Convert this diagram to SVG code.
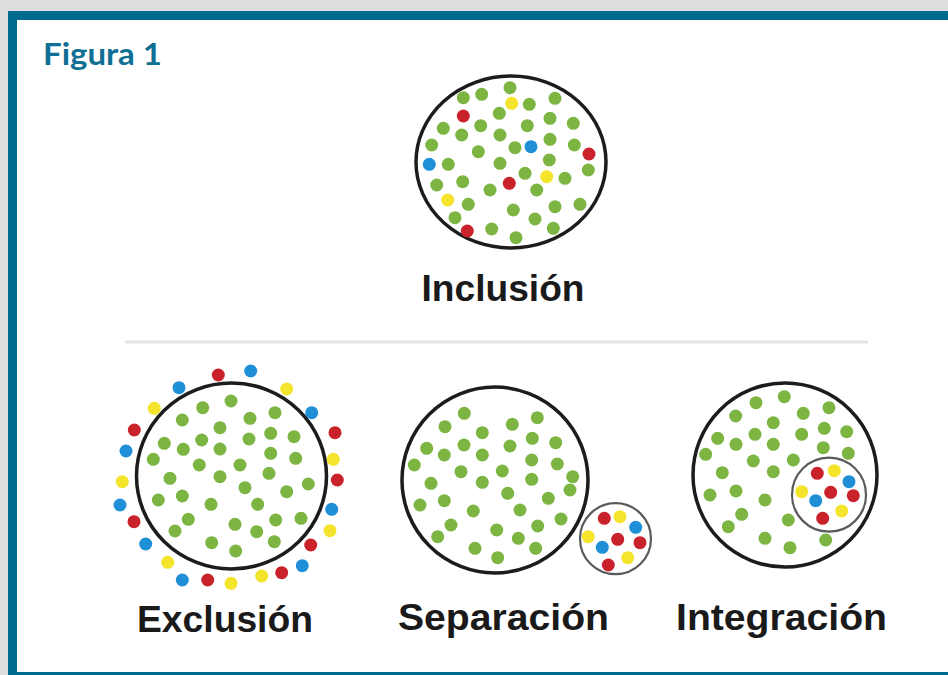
<svg xmlns="http://www.w3.org/2000/svg" width="948" height="675" viewBox="0 0 948 675">
<style>
.g{fill:#7db543}
.r{fill:#c9222b}
.y{fill:#f4e42c}
.b{fill:#1f8fd7}
.ring{fill:none;stroke:#1c1c1c;stroke-width:3.5}
.sub{fill:none;stroke:#5a5a5a;stroke-width:2.2}
.lbl{font-family:"Liberation Sans",Arial,sans-serif;font-weight:bold;fill:#1a1a1a;text-anchor:middle}
</style>
<rect x="0" y="0" width="948" height="675" fill="#dedede"/>
<rect x="8" y="11" width="950" height="680" fill="#006b8f"/>
<rect x="17" y="20" width="940" height="652" fill="#ffffff"/>
<text x="43" y="65" font-family="Lato,'Open Sans',sans-serif" font-weight="bold" font-size="30" fill="#0f6f94" textLength="119" lengthAdjust="spacingAndGlyphs">Figura 1</text>
<line x1="125" y1="342" x2="868" y2="342" stroke="#e4e4e4" stroke-width="3"/>

<g id="inclusion">
<ellipse class="ring" cx="511" cy="162" rx="95" ry="86"/>
<g>
<circle class="g" cx="510" cy="87.7" r="6.5"/><circle class="g" cx="463.3" cy="97.7" r="6.5"/><circle class="g" cx="481.7" cy="94.3" r="6.5"/><circle class="g" cx="555" cy="98.3" r="6.5"/><circle class="g" cx="529.3" cy="104.3" r="6.5"/><circle class="g" cx="499.3" cy="113.3" r="6.5"/><circle class="g" cx="550" cy="118.3" r="6.5"/><circle class="g" cx="573.3" cy="123.3" r="6.5"/><circle class="g" cx="443.3" cy="128.3" r="6.5"/><circle class="g" cx="461.7" cy="135" r="6.5"/><circle class="g" cx="480.7" cy="125.7" r="6.5"/><circle class="g" cx="500" cy="135" r="6.5"/><circle class="g" cx="527.3" cy="125.7" r="6.5"/><circle class="g" cx="550" cy="139.3" r="6.5"/><circle class="g" cx="574.3" cy="145" r="6.5"/><circle class="g" cx="431.7" cy="145" r="6.5"/><circle class="g" cx="478.3" cy="151.7" r="6.5"/><circle class="g" cx="515" cy="147.7" r="6.5"/><circle class="g" cx="500" cy="163.3" r="6.5"/><circle class="g" cx="448.3" cy="164.3" r="6.5"/><circle class="g" cx="549.3" cy="160" r="6.5"/><circle class="g" cx="525" cy="173.3" r="6.5"/><circle class="g" cx="588.3" cy="170" r="6.5"/><circle class="g" cx="565" cy="178.3" r="6.5"/><circle class="g" cx="436.7" cy="185" r="6.5"/><circle class="g" cx="462.7" cy="181.7" r="6.5"/><circle class="g" cx="490" cy="190" r="6.5"/><circle class="g" cx="536.7" cy="190" r="6.5"/><circle class="g" cx="468.3" cy="204.3" r="6.5"/><circle class="g" cx="513.3" cy="210" r="6.5"/><circle class="g" cx="555" cy="206.7" r="6.5"/><circle class="g" cx="580" cy="204.3" r="6.5"/><circle class="g" cx="455" cy="217.7" r="6.5"/><circle class="g" cx="535" cy="219" r="6.5"/><circle class="g" cx="553.3" cy="228.3" r="6.5"/><circle class="g" cx="491.7" cy="229" r="6.5"/><circle class="g" cx="516" cy="237.7" r="6.5"/>
<circle class="y" cx="511.7" cy="103.3" r="6.5"/><circle class="y" cx="546.7" cy="176.7" r="6.5"/><circle class="y" cx="447.7" cy="200" r="6.5"/>
<circle class="r" cx="463.3" cy="116" r="6.5"/><circle class="r" cx="589" cy="154" r="6.5"/><circle class="r" cx="509.3" cy="183.3" r="6.5"/><circle class="r" cx="467.3" cy="231" r="6.5"/>
<circle class="b" cx="531" cy="146.7" r="6.5"/><circle class="b" cx="429.3" cy="164.3" r="6.5"/>
</g>
<text class="lbl" x="503" y="301" font-size="36" textLength="163" lengthAdjust="spacingAndGlyphs">Inclusión</text>
</g>

<g id="exclusion">
<ellipse class="ring" cx="231.5" cy="476" rx="95" ry="93"/>
<g>
<circle class="g" cx="231" cy="401" r="6.5"/><circle class="g" cx="202.7" cy="407.7" r="6.5"/><circle class="g" cx="182.3" cy="420" r="6.5"/><circle class="g" cx="220" cy="427.7" r="6.5"/><circle class="g" cx="250" cy="418.3" r="6.5"/><circle class="g" cx="275" cy="412.7" r="6.5"/><circle class="g" cx="164.3" cy="443.3" r="6.5"/><circle class="g" cx="183.3" cy="449.3" r="6.5"/><circle class="g" cx="201.7" cy="440" r="6.5"/><circle class="g" cx="220" cy="449" r="6.5"/><circle class="g" cx="249" cy="439" r="6.5"/><circle class="g" cx="270.7" cy="433.3" r="6.5"/><circle class="g" cx="294" cy="436.7" r="6.5"/><circle class="g" cx="153.3" cy="459.3" r="6.5"/><circle class="g" cx="199.3" cy="465" r="6.5"/><circle class="g" cx="240" cy="465" r="6.5"/><circle class="g" cx="270.7" cy="453.3" r="6.5"/><circle class="g" cx="295.7" cy="458.3" r="6.5"/><circle class="g" cx="170" cy="478.3" r="6.5"/><circle class="g" cx="220" cy="476.7" r="6.5"/><circle class="g" cx="269" cy="473.3" r="6.5"/><circle class="g" cx="245" cy="487.7" r="6.5"/><circle class="g" cx="308.3" cy="484" r="6.5"/><circle class="g" cx="286.7" cy="491.7" r="6.5"/><circle class="g" cx="158.3" cy="500" r="6.5"/><circle class="g" cx="182.3" cy="496" r="6.5"/><circle class="g" cx="211" cy="504.3" r="6.5"/><circle class="g" cx="257.7" cy="504.3" r="6.5"/><circle class="g" cx="188.3" cy="519.3" r="6.5"/><circle class="g" cx="235" cy="524.3" r="6.5"/><circle class="g" cx="275.7" cy="520" r="6.5"/><circle class="g" cx="301" cy="518.3" r="6.5"/><circle class="g" cx="175" cy="531" r="6.5"/><circle class="g" cx="256.7" cy="531.7" r="6.5"/><circle class="g" cx="211.7" cy="542.7" r="6.5"/><circle class="g" cx="235.7" cy="551" r="6.5"/><circle class="g" cx="274.3" cy="541.7" r="6.5"/>
<circle class="r" cx="218.3" cy="375" r="6.5"/><circle class="r" cx="134.3" cy="430" r="6.5"/><circle class="r" cx="335" cy="432.7" r="6.5"/><circle class="r" cx="337.3" cy="480" r="6.5"/><circle class="r" cx="134" cy="521.7" r="6.5"/><circle class="r" cx="310.7" cy="545" r="6.5"/><circle class="r" cx="281.7" cy="572.7" r="6.5"/><circle class="r" cx="207.7" cy="580" r="6.5"/>
<circle class="b" cx="250.7" cy="371" r="6.5"/><circle class="b" cx="179" cy="387.7" r="6.5"/><circle class="b" cx="311.7" cy="412.7" r="6.5"/><circle class="b" cx="126" cy="451" r="6.5"/><circle class="b" cx="120" cy="505" r="6.5"/><circle class="b" cx="331.7" cy="509.3" r="6.5"/><circle class="b" cx="145.7" cy="544" r="6.5"/><circle class="b" cx="302.3" cy="565.7" r="6.5"/><circle class="b" cx="182.3" cy="580" r="6.5"/>
<circle class="y" cx="286.7" cy="389" r="6.5"/><circle class="y" cx="154.3" cy="408.3" r="6.5"/><circle class="y" cx="333.3" cy="459.3" r="6.5"/><circle class="y" cx="122.3" cy="481.7" r="6.5"/><circle class="y" cx="330" cy="530.7" r="6.5"/><circle class="y" cx="167.7" cy="562.3" r="6.5"/><circle class="y" cx="231" cy="583.3" r="6.5"/><circle class="y" cx="261.7" cy="576" r="6.5"/>
</g>
<text class="lbl" x="225" y="632" font-size="36" textLength="176" lengthAdjust="spacingAndGlyphs">Exclusión</text>
</g>

<g id="separacion">
<circle class="ring" cx="495" cy="480" r="93"/>
<g>
<circle class="g" cx="464.3" cy="413.3" r="6.5"/><circle class="g" cx="445" cy="426.7" r="6.5"/><circle class="g" cx="482.3" cy="432.7" r="6.5"/><circle class="g" cx="512.3" cy="424.3" r="6.5"/><circle class="g" cx="537.3" cy="417.7" r="6.5"/><circle class="g" cx="426.7" cy="448.3" r="6.5"/><circle class="g" cx="444.3" cy="455" r="6.5"/><circle class="g" cx="464" cy="445" r="6.5"/><circle class="g" cx="482.3" cy="455" r="6.5"/><circle class="g" cx="510" cy="446" r="6.5"/><circle class="g" cx="532.3" cy="438.3" r="6.5"/><circle class="g" cx="555.7" cy="442.7" r="6.5"/><circle class="g" cx="414.3" cy="465" r="6.5"/><circle class="g" cx="461" cy="471.7" r="6.5"/><circle class="g" cx="502.3" cy="471" r="6.5"/><circle class="g" cx="531.7" cy="460" r="6.5"/><circle class="g" cx="557.3" cy="464" r="6.5"/><circle class="g" cx="431" cy="483.3" r="6.5"/><circle class="g" cx="482.3" cy="482.3" r="6.5"/><circle class="g" cx="531.7" cy="479.3" r="6.5"/><circle class="g" cx="572.7" cy="476.7" r="6.5"/><circle class="g" cx="570" cy="490" r="6.5"/><circle class="g" cx="420" cy="505" r="6.5"/><circle class="g" cx="444.3" cy="500.7" r="6.5"/><circle class="g" cx="507.7" cy="493.3" r="6.5"/><circle class="g" cx="548.3" cy="498.3" r="6.5"/><circle class="g" cx="473.3" cy="511" r="6.5"/><circle class="g" cx="520" cy="510" r="6.5"/><circle class="g" cx="561" cy="519" r="6.5"/><circle class="g" cx="451" cy="525" r="6.5"/><circle class="g" cx="496.7" cy="530" r="6.5"/><circle class="g" cx="537.7" cy="526" r="6.5"/><circle class="g" cx="437.7" cy="536.7" r="6.5"/><circle class="g" cx="518.3" cy="538.3" r="6.5"/><circle class="g" cx="475" cy="548.3" r="6.5"/><circle class="g" cx="535.7" cy="548.3" r="6.5"/><circle class="g" cx="497.7" cy="557.7" r="6.5"/>
</g>
<circle class="sub" cx="615.5" cy="538.7" r="35.5"/>
<g>
<circle class="r" cx="604.3" cy="518.3" r="6.5"/><circle class="r" cx="617.7" cy="539.3" r="6.5"/><circle class="r" cx="640" cy="542.7" r="6.5"/><circle class="r" cx="608.3" cy="565" r="6.5"/>
<circle class="y" cx="620" cy="516.7" r="6.5"/><circle class="y" cx="588.3" cy="536.7" r="6.5"/><circle class="y" cx="627.7" cy="557.7" r="6.5"/>
<circle class="b" cx="635.7" cy="527.3" r="6.5"/><circle class="b" cx="602.3" cy="547.3" r="6.5"/>
</g>
<text class="lbl" x="503.5" y="630" font-size="36" textLength="211" lengthAdjust="spacingAndGlyphs">Separación</text>
</g>

<g id="integracion">
<circle class="ring" cx="785" cy="475" r="92"/>
<g>
<circle class="g" cx="784.3" cy="396.7" r="6.5"/><circle class="g" cx="756" cy="402.7" r="6.5"/><circle class="g" cx="735.7" cy="416" r="6.5"/><circle class="g" cx="773.3" cy="422.7" r="6.5"/><circle class="g" cx="803.3" cy="413.3" r="6.5"/><circle class="g" cx="829" cy="407.7" r="6.5"/><circle class="g" cx="717.7" cy="438.3" r="6.5"/><circle class="g" cx="736" cy="444.3" r="6.5"/><circle class="g" cx="755" cy="434.3" r="6.5"/><circle class="g" cx="773.3" cy="444.3" r="6.5"/><circle class="g" cx="801.7" cy="434.3" r="6.5"/><circle class="g" cx="824.3" cy="428.3" r="6.5"/><circle class="g" cx="846.7" cy="431.7" r="6.5"/><circle class="g" cx="705.7" cy="454.3" r="6.5"/><circle class="g" cx="753.3" cy="461" r="6.5"/><circle class="g" cx="793.3" cy="460" r="6.5"/><circle class="g" cx="823.3" cy="447.7" r="6.5"/><circle class="g" cx="848.3" cy="453.3" r="6.5"/><circle class="g" cx="722.3" cy="472.7" r="6.5"/><circle class="g" cx="773.3" cy="471.7" r="6.5"/><circle class="g" cx="710" cy="495" r="6.5"/><circle class="g" cx="736" cy="491" r="6.5"/><circle class="g" cx="765" cy="500" r="6.5"/><circle class="g" cx="741.7" cy="514.3" r="6.5"/><circle class="g" cx="788.3" cy="520" r="6.5"/><circle class="g" cx="728.3" cy="526.7" r="6.5"/><circle class="g" cx="765" cy="538.3" r="6.5"/><circle class="g" cx="790" cy="547.7" r="6.5"/><circle class="g" cx="825.7" cy="540" r="6.5"/>
</g>
<circle class="sub" cx="829" cy="494.7" r="37"/>
<g>
<circle class="r" cx="817.3" cy="473.3" r="6.5"/><circle class="r" cx="830.7" cy="492.3" r="6.5"/><circle class="r" cx="853.3" cy="495.7" r="6.5"/><circle class="r" cx="822.7" cy="518.3" r="6.5"/>
<circle class="y" cx="834.3" cy="470.7" r="6.5"/><circle class="y" cx="801.7" cy="491.7" r="6.5"/><circle class="y" cx="841.7" cy="511" r="6.5"/>
<circle class="b" cx="849" cy="481.7" r="6.5"/><circle class="b" cx="815.7" cy="500.7" r="6.5"/>
</g>
<text class="lbl" x="781.5" y="630" font-size="36" textLength="211" lengthAdjust="spacingAndGlyphs">Integración</text>
</g>
</svg>
